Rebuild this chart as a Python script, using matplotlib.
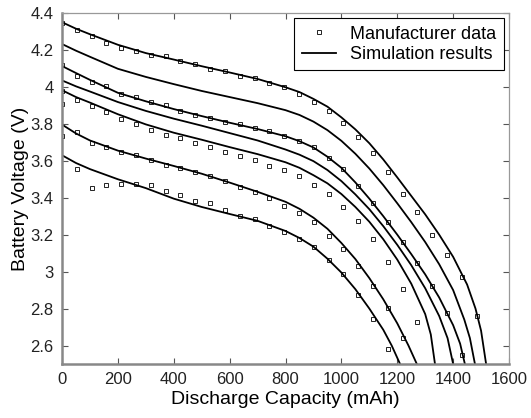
import matplotlib
matplotlib.use("Agg")
import matplotlib.pyplot as plt
from matplotlib.ticker import FuncFormatter

plt.rcParams['font.family'] = ['Liberation Sans', 'DejaVu Sans']

# manufacturer data: common capacity grid (mAh)
cap_pts = [0, 53, 106, 159, 212, 265, 318, 371, 424, 477, 530, 583, 636, 689, 742,
           795, 848, 901, 954, 1007, 1060, 1113, 1166, 1219, 1272, 1325, 1378, 1431, 1484]

meas_a = [4.346, 4.310, 4.278, 4.238, 4.213, 4.193, 4.170, 4.166, 4.139, 4.124, 4.097,
          4.085, 4.059, 4.048, 4.022, 3.998, 3.961, 3.919, 3.868, 3.802, 3.729, 3.640,
          3.537, 3.421, 3.322, 3.199, 3.091, 2.972, 2.761]
meas_b = [4.117, 4.059, 4.029, 4.004, 3.959, 3.944, 3.918, 3.900, 3.870, 3.847, 3.834,
          3.812, 3.800, 3.776, 3.762, 3.735, 3.708, 3.672, 3.616, 3.553, 3.463, 3.373,
          3.268, 3.160, 3.048, 2.922, 2.778, 2.549]
meas_c = [3.977, 3.928, 3.894, 3.863, 3.825, 3.800, 3.764, 3.740, 3.721, 3.697, 3.677,
          3.645, 3.627, 3.605, 3.573, 3.550, 3.517, 3.467, 3.420, 3.349, 3.276, 3.174,
          3.050, 2.906, 2.726]
meas_d = [3.905, 3.756, 3.697, 3.672, 3.645, 3.630, 3.605, 3.578, 3.560, 3.538, 3.517,
          3.491, 3.459, 3.430, 3.400, 3.356, 3.318, 3.268, 3.194, 3.124, 3.030, 2.922,
          2.805, 2.642]
meas_e = [3.735, 3.553, 3.452, 3.468, 3.474, 3.475, 3.468, 3.437, 3.416, 3.385, 3.370,
          3.333, 3.300, 3.284, 3.246, 3.214, 3.176, 3.133, 3.061, 2.988, 2.875, 2.742,
          2.583]

# simulation curves (capacity, voltage)
sim1_x = [0, 50, 100, 200, 300, 400, 500, 600, 700, 800, 850, 900, 950, 1000, 1050, 1100,
          1150, 1200, 1250, 1300, 1350, 1400, 1450, 1480, 1500, 1518]
sim1_y = [4.35, 4.315, 4.285, 4.228, 4.183, 4.148, 4.112, 4.078, 4.043, 3.998, 3.972, 3.935,
          3.893, 3.835, 3.770, 3.695, 3.607, 3.51, 3.41, 3.31, 3.20, 3.08, 2.93, 2.80, 2.68, 2.5]
sim2_x = [0, 50, 100, 200, 300, 400, 500, 600, 700, 800, 850, 900, 950, 1000, 1050, 1100,
          1150, 1200, 1250, 1300, 1350, 1400, 1440, 1460, 1478]
sim2_y = [4.232, 4.196, 4.163, 4.098, 4.054, 4.015, 3.978, 3.945, 3.912, 3.874, 3.848, 3.812,
          3.766, 3.708, 3.638, 3.558, 3.468, 3.370, 3.268, 3.160, 3.04, 2.90, 2.74, 2.64, 2.5]
sim3_x = [0, 50, 100, 200, 300, 400, 500, 600, 700, 800, 850, 900, 950, 1000, 1050, 1100,
          1150, 1200, 1250, 1300, 1350, 1400, 1425, 1442]
sim3_y = [4.113, 4.075, 4.038, 3.968, 3.922, 3.880, 3.842, 3.806, 3.772, 3.733, 3.706, 3.672,
          3.622, 3.562, 3.483, 3.395, 3.30, 3.20, 3.095, 2.985, 2.86, 2.71, 2.61, 2.5]
sim4_x = [0, 50, 100, 200, 300, 400, 500, 600, 700, 800, 850, 900, 950, 1000, 1050, 1100,
          1150, 1200, 1250, 1300, 1350, 1380, 1400]
sim4_y = [4.035, 4.003, 3.975, 3.918, 3.870, 3.828, 3.790, 3.750, 3.710, 3.661, 3.633, 3.598,
          3.550, 3.490, 3.418, 3.338, 3.246, 3.145, 3.035, 2.91, 2.76, 2.64, 2.5]
sim5_x = [0, 50, 100, 200, 300, 400, 500, 600, 700, 800, 850, 900, 950, 1000, 1050, 1100,
          1150, 1200, 1250, 1300, 1320, 1335]
sim5_y = [3.982, 3.945, 3.915, 3.852, 3.797, 3.752, 3.714, 3.674, 3.636, 3.592, 3.562, 3.522,
          3.478, 3.420, 3.350, 3.270, 3.175, 3.065, 2.935, 2.77, 2.66, 2.5]
sim6_x = [0, 50, 100, 200, 300, 400, 500, 600, 700, 800, 850, 900, 950, 1000, 1050, 1100,
          1150, 1200, 1240, 1270]
sim6_y = [3.796, 3.748, 3.71, 3.655, 3.612, 3.572, 3.530, 3.482, 3.432, 3.378, 3.340, 3.292,
          3.232, 3.155, 3.068, 2.965, 2.850, 2.720, 2.60, 2.5]
sim7_x = [0, 50, 100, 200, 300, 400, 500, 600, 700, 800, 850, 900, 950, 1000, 1050, 1100,
          1150, 1180, 1210]
sim7_y = [3.630, 3.588, 3.555, 3.50, 3.452, 3.395, 3.350, 3.312, 3.275, 3.220, 3.182, 3.135,
          3.070, 2.995, 2.905, 2.800, 2.685, 2.60, 2.5]

x_ticks = [0, 200, 400, 600, 800, 1000, 1200, 1400, 1600]
y_ticks = [2.6, 2.8, 3.0, 3.2, 3.4, 3.6, 3.8, 4.0, 4.2, 4.4]

fig = plt.figure(figsize=(5.31, 4.18), dpi=100)
ax = fig.add_axes([0.1168, 0.1292, 0.8418, 0.8397])

meas = [meas_a, meas_b, meas_c, meas_d, meas_e]
for i, m in enumerate(meas):
    ax.plot(cap_pts[:len(m)], m, linestyle='none', marker='s', markersize=3.2,
            markerfacecolor='none', markeredgecolor='#222222', markeredgewidth=0.7,
            label='Manufacturer data' if i == 0 else None)

sims = [(sim1_x, sim1_y), (sim2_x, sim2_y), (sim3_x, sim3_y), (sim4_x, sim4_y),
        (sim5_x, sim5_y), (sim6_x, sim6_y), (sim7_x, sim7_y)]
for i, (sx, sy) in enumerate(sims):
    ax.plot(sx, sy, color='black', lw=1.3,
            label='Simulation results' if i == 0 else None)

ax.set_xlim(0, 1600)
ax.set_ylim(2.5, 4.4)
ax.set_xticks(x_ticks)
ax.set_yticks(y_ticks)
ax.yaxis.set_major_formatter(FuncFormatter(lambda v, p: f"{v:g}"))
ax.tick_params(direction='in', length=4, width=0.8, color='#555555',
               top=True, right=True, labelsize=12, labelcolor='#222222', pad=6)

for side in ['left', 'bottom']:
    ax.spines[side].set_color('#888888')
    ax.spines[side].set_linewidth(1.8)
for side in ['top', 'right']:
    ax.spines[side].set_color('#999999')
    ax.spines[side].set_linewidth(0.9)

ax.set_xlabel('Discharge Capacity (mAh)', fontsize=14, labelpad=3)
ax.set_ylabel('Battery Voltage (V)', fontsize=14, labelpad=1)

leg = ax.legend(loc='upper right', fontsize=13, frameon=True, fancybox=False,
                edgecolor='black', framealpha=1, handlelength=1.9,
                handletextpad=0.8, labelspacing=0.2, borderpad=0.4,
                borderaxespad=0.3, markerscale=1.0)
leg.get_frame().set_linewidth(0.8)

fig.savefig('out.png', dpi=100)
